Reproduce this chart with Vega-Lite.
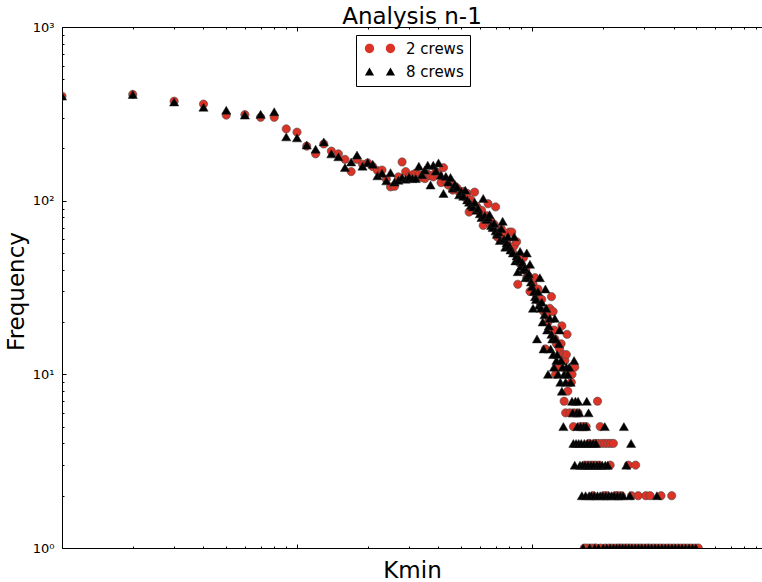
{
"$schema": "https://vega.github.io/schema/vega-lite/v6.json",
"width": 700, "height": 521,
"autosize": {"type": "none"},
"padding": {"left": 62, "top": 27, "right": 0, "bottom": 34},
"background": "white",
"title": {"text": "Analysis n-1", "fontSize": 23, "font": "DejaVu Sans", "fontWeight": "normal", "color": "black", "anchor": "middle", "frame": "group", "baseline": "alphabetic", "offset": -26},
"datasets": {
"a": [
{"k":1,"f":400},{"k":2,"f":409},{"k":3,"f":374},{"k":4,"f":360},{"k":5,"f":311},{"k":6,"f":313},{"k":7,"f":302},{"k":8,"f":302},{"k":9,"f":259},{"k":10,"f":248},
{"k":11,"f":206},{"k":12,"f":186},{"k":13,"f":212},{"k":14,"f":193},{"k":15,"f":186},{"k":16,"f":173},{"k":17,"f":147},{"k":18,"f":173},{"k":19,"f":162},{"k":20,"f":165},
{"k":21,"f":157},{"k":22,"f":149},{"k":23,"f":150},{"k":24,"f":133},{"k":25,"f":120},{"k":26,"f":121},{"k":27,"f":137},{"k":28,"f":167},{"k":29,"f":147},{"k":30,"f":138},
{"k":31,"f":141},{"k":32,"f":144},{"k":33,"f":141},{"k":34,"f":136},{"k":35,"f":134},{"k":36,"f":142},{"k":37,"f":139},{"k":38,"f":137},{"k":39,"f":147},{"k":40,"f":142},
{"k":41,"f":127},{"k":42,"f":155},{"k":43,"f":130},{"k":44,"f":123},{"k":45,"f":128},{"k":46,"f":115},{"k":47,"f":121},{"k":48,"f":118},{"k":49,"f":112},{"k":50,"f":108},
{"k":51,"f":113},{"k":52,"f":104},{"k":53,"f":110},{"k":54,"f":86},{"k":55,"f":101},{"k":56,"f":96},{"k":57,"f":112},{"k":58,"f":93},{"k":59,"f":90},{"k":60,"f":86},
{"k":61,"f":88},{"k":62,"f":72},{"k":63,"f":80},{"k":64,"f":82},{"k":65,"f":96},{"k":66,"f":74},{"k":67,"f":76},{"k":68,"f":70},{"k":69,"f":73},{"k":70,"f":92},
{"k":71,"f":62},{"k":72,"f":65},{"k":73,"f":60},{"k":74,"f":69},{"k":75,"f":63},{"k":76,"f":64},{"k":77,"f":58},{"k":78,"f":58},{"k":79,"f":55},{"k":80,"f":66},
{"k":81,"f":53},{"k":82,"f":66},{"k":83,"f":50},{"k":84,"f":55},{"k":86,"f":58},{"k":87,"f":33},{"k":88,"f":44},{"k":89,"f":47},{"k":90,"f":43},{"k":92,"f":47},
{"k":93,"f":40},{"k":94,"f":40},{"k":95,"f":36},{"k":96,"f":37},{"k":98,"f":30},{"k":101,"f":33},{"k":103,"f":36},{"k":104,"f":29},{"k":106,"f":31},{"k":108,"f":26},
{"k":110,"f":27},{"k":112,"f":23},{"k":114,"f":14},{"k":116,"f":22},{"k":117,"f":20},{"k":119,"f":24},{"k":121,"f":28},{"k":123,"f":23},{"k":124,"f":18},{"k":125,"f":16},
{"k":126,"f":10},{"k":127,"f":15},{"k":129,"f":11},{"k":131,"f":14},{"k":133,"f":15},{"k":134,"f":19},{"k":136,"f":13},{"k":137,"f":7},{"k":138,"f":12},{"k":139,"f":6},
{"k":140,"f":13},{"k":141,"f":17},{"k":142,"f":8},{"k":143,"f":10},{"k":145,"f":6},{"k":147,"f":9},{"k":148,"f":10},{"k":150,"f":5},{"k":151,"f":6},{"k":152,"f":11},
{"k":157,"f":6},{"k":160,"f":5},{"k":165,"f":5},{"k":170,"f":5},{"k":195,"f":5},{"k":190,"f":7},
{"k":175,"f":4},{"k":185,"f":4},{"k":191,"f":4},{"k":198,"f":4},{"k":204,"f":4},{"k":210,"f":4},{"k":216,"f":4},{"k":222,"f":4},
{"k":168,"f":3},{"k":174,"f":3},{"k":180,"f":3},{"k":186,"f":3},{"k":193,"f":3},{"k":215,"f":3},{"k":257,"f":3},{"k":276,"f":3},
{"k":182,"f":2},{"k":202,"f":2},{"k":209,"f":2},{"k":226,"f":2},{"k":232,"f":2},{"k":240,"f":2},{"k":265,"f":2},{"k":283,"f":2},{"k":305,"f":2},{"k":318,"f":2},{"k":354,"f":2},{"k":393,"f":2},
{"k":167,"f":1},{"k":172,"f":1},{"k":178,"f":1},{"k":184,"f":1},{"k":188,"f":1},{"k":196,"f":1},{"k":205,"f":1},{"k":213,"f":1},{"k":220,"f":1},{"k":228,"f":1},
{"k":235,"f":1},{"k":241,"f":1},{"k":249,"f":1},{"k":256,"f":1},{"k":263,"f":1},{"k":271,"f":1},{"k":280,"f":1},{"k":289,"f":1},{"k":298,"f":1},{"k":308,"f":1},
{"k":316,"f":1},{"k":327,"f":1},{"k":338,"f":1},{"k":350,"f":1},{"k":362,"f":1},{"k":375,"f":1},{"k":388,"f":1},{"k":402,"f":1},{"k":416,"f":1},{"k":430,"f":1},
{"k":445,"f":1},{"k":460,"f":1},{"k":476,"f":1},{"k":493,"f":1},{"k":510,"f":1}
],
"b": [
{"k":1,"f":400},{"k":2,"f":409},{"k":3,"f":370},{"k":4,"f":345},{"k":5,"f":332},{"k":6,"f":311},{"k":7,"f":314},{"k":8,"f":325},{"k":9,"f":233},{"k":10,"f":230},
{"k":11,"f":209},{"k":12,"f":198},{"k":13,"f":218},{"k":14,"f":186},{"k":15,"f":179},{"k":16,"f":155},{"k":17,"f":167},{"k":18,"f":183},{"k":19,"f":158},{"k":20,"f":166},
{"k":21,"f":162},{"k":22,"f":139},{"k":23,"f":144},{"k":24,"f":130},{"k":25,"f":145},{"k":26,"f":128},{"k":27,"f":131},{"k":28,"f":136},{"k":29,"f":133},{"k":30,"f":137},
{"k":31,"f":134},{"k":32,"f":134},{"k":33,"f":158},{"k":34,"f":141},{"k":35,"f":150},{"k":36,"f":160},{"k":37,"f":123},{"k":38,"f":160},{"k":39,"f":148},{"k":40,"f":165},
{"k":41,"f":140},{"k":42,"f":110},{"k":43,"f":138},{"k":44,"f":128},{"k":45,"f":136},{"k":46,"f":118},{"k":47,"f":124},{"k":48,"f":120},{"k":49,"f":108},{"k":50,"f":113},
{"k":51,"f":106},{"k":52,"f":115},{"k":53,"f":101},{"k":54,"f":98},{"k":55,"f":94},{"k":56,"f":92},{"k":57,"f":98},{"k":58,"f":88},{"k":59,"f":90},{"k":60,"f":84},
{"k":61,"f":80},{"k":62,"f":103},{"k":63,"f":82},{"k":64,"f":78},{"k":65,"f":80},{"k":66,"f":83},{"k":67,"f":72},{"k":68,"f":70},{"k":69,"f":74},{"k":70,"f":67},
{"k":71,"f":64},{"k":72,"f":66},{"k":73,"f":59},{"k":74,"f":69},{"k":75,"f":76},{"k":76,"f":60},{"k":77,"f":54},{"k":78,"f":57},{"k":79,"f":62},{"k":80,"f":55},
{"k":81,"f":52},{"k":83,"f":50},{"k":84,"f":62},{"k":85,"f":45},{"k":86,"f":48},{"k":87,"f":39},{"k":88,"f":46},{"k":89,"f":51},{"k":90,"f":42},{"k":91,"f":44},
{"k":92,"f":40},{"k":93,"f":41},{"k":94,"f":36},{"k":95,"f":50},{"k":96,"f":37},{"k":97,"f":38},{"k":98,"f":43},{"k":99,"f":34},{"k":100,"f":32},{"k":101,"f":24},
{"k":102,"f":30},{"k":103,"f":28},{"k":104,"f":27},{"k":105,"f":16},{"k":106,"f":30},{"k":107,"f":25},{"k":108,"f":36},{"k":109,"f":24},{"k":110,"f":26},{"k":111,"f":20},
{"k":112,"f":14},{"k":113,"f":22},{"k":114,"f":31},{"k":115,"f":24},{"k":116,"f":18},{"k":117,"f":10},{"k":118,"f":19},{"k":119,"f":21},{"k":120,"f":14},{"k":121,"f":17},
{"k":122,"f":16},{"k":123,"f":13},{"k":124,"f":11},{"k":125,"f":21},{"k":126,"f":16},{"k":127,"f":12},{"k":128,"f":13},{"k":129,"f":10},{"k":130,"f":15},{"k":131,"f":18},
{"k":132,"f":9},{"k":133,"f":12},{"k":134,"f":8},{"k":135,"f":11},{"k":137,"f":10},{"k":139,"f":9},{"k":140,"f":11},{"k":142,"f":10},{"k":144,"f":11},{"k":146,"f":9},
{"k":151,"f":12},{"k":148,"f":7},{"k":153,"f":7},{"k":157,"f":7},{"k":171,"f":7},
{"k":149,"f":6},{"k":155,"f":6},{"k":159,"f":6},{"k":174,"f":6},
{"k":136,"f":5},{"k":156,"f":5},{"k":161,"f":5},{"k":166,"f":5},{"k":170,"f":5},{"k":204,"f":5},{"k":246,"f":5},
{"k":150,"f":4},{"k":154,"f":4},{"k":158,"f":4},{"k":162,"f":4},{"k":167,"f":4},{"k":172,"f":4},{"k":177,"f":4},{"k":182,"f":4},{"k":187,"f":4},{"k":264,"f":4},
{"k":152,"f":3},{"k":160,"f":3},{"k":164,"f":3},{"k":168,"f":3},{"k":173,"f":3},{"k":178,"f":3},{"k":183,"f":3},{"k":189,"f":3},{"k":194,"f":3},{"k":199,"f":3},{"k":205,"f":3},{"k":210,"f":3},{"k":252,"f":3},
{"k":163,"f":2},{"k":169,"f":2},{"k":175,"f":2},{"k":179,"f":2},{"k":184,"f":2},{"k":190,"f":2},{"k":195,"f":2},{"k":200,"f":2},{"k":206,"f":2},{"k":212,"f":2},{"k":218,"f":2},{"k":224,"f":2},{"k":231,"f":2},{"k":238,"f":2},{"k":244,"f":2},{"k":261,"f":2},{"k":340,"f":2},
{"k":165,"f":1},{"k":176,"f":1},{"k":185,"f":1},{"k":192,"f":1},{"k":201,"f":1},{"k":208,"f":1},{"k":215,"f":1},{"k":222,"f":1},{"k":229,"f":1},{"k":236,"f":1},
{"k":243,"f":1},{"k":250,"f":1},{"k":258,"f":1},{"k":266,"f":1},{"k":275,"f":1},{"k":284,"f":1},{"k":293,"f":1},{"k":303,"f":1},{"k":313,"f":1},{"k":323,"f":1},
{"k":334,"f":1},{"k":345,"f":1},{"k":357,"f":1},{"k":369,"f":1},{"k":381,"f":1},{"k":394,"f":1},{"k":407,"f":1},{"k":421,"f":1},{"k":435,"f":1},{"k":450,"f":1},
{"k":466,"f":1},{"k":482,"f":1},{"k":498,"f":1}
]
},
"layer": [
  {"data": {"name": "a"},
   "mark": {"type": "point", "shape": "circle", "filled": true, "color": "#dc3326", "size": 68, "opacity": 1, "stroke": "#4a4a4a", "strokeWidth": 0.6, "clip": true},
   "encoding": {
     "x": {"field": "k", "type": "quantitative", "scale": {"type": "log", "domain": [1, 952], "nice": false},
       "axis": {"orient": "bottom", "values": [1,2,3,4,5,6,7,8,9,10,20,30,40,50,60,70,80,90,100,200,300,400,500,600,700,800,900],
         "labels": false, "tickSize": {"condition": {"test": "datum.value == 1 || datum.value == 10 || datum.value == 100", "value": -4}, "value": -2},
         "title": "Kmin", "titleFontSize": 23, "titleX": 350, "titleY": 29, "titleBaseline": "alphabetic", "titleAlign": "center"}},
     "y": {"field": "f", "type": "quantitative",
       "scale": {"type": "log", "domain": [1, 1000], "nice": false},
       "axis": {"orient": "left", "values": [1,2,3,4,5,6,7,8,9,10,20,30,40,50,60,70,80,90,100,200,300,400,500,600,700,800,900,1000],
         "labelExpr": "datum.value == 1 ? '10⁰' : datum.value == 10 ? '10¹' : datum.value == 100 ? '10²' : datum.value == 1000 ? '10³' : ''",
         "labelFontSize": 13, "labelPadding": 12, "labelOverlap": false,
         "tickSize": {"condition": {"test": "datum.value == 1 || datum.value == 10 || datum.value == 100 || datum.value == 1000", "value": -4}, "value": -2},
         "title": "Frequency", "titleFontSize": 23, "titleX": -46, "titleY": 264, "titleAngle": 270, "titleBaseline": "middle", "titleAlign": "center"}}
   }},
  {"data": {"name": "b"},
   "mark": {"type": "point", "shape": "triangle-up", "filled": true, "color": "#000000", "size": 85, "opacity": 1, "stroke": "#222", "strokeWidth": 0.5, "clip": true},
   "encoding": {
     "x": {"field": "k", "type": "quantitative", "scale": {"type": "log", "domain": [1, 952], "nice": false},
       "axis": {"orient": "top", "values": [1,2,3,4,5,6,7,8,9,10,20,30,40,50,60,70,80,90,100,200,300,400,500,600,700,800,900],
         "labels": false, "tickSize": {"condition": {"test": "datum.value == 1 || datum.value == 10 || datum.value == 100", "value": -4}, "value": -2}, "title": null}},
     "y": {"field": "f", "type": "quantitative"}
   }},
  {"data": {"name": "a"},
   "transform": [{"filter": "false"}],
   "mark": {"type": "point", "filled": true, "opacity": 1},
   "encoding": {
     "color": {"datum": "2 crews", "type": "nominal",
       "scale": {"domain": ["2 crews", "8 crews"], "range": ["#dc3326", "#000000"]},
       "legend": {"orient": "none", "legendX": 294, "legendY": 8, "title": null, "fillColor": "white", "strokeColor": "black", "cornerRadius": 0, "padding": 6, "labelFontSize": 15, "labelFont": "DejaVu Sans", "labelColor": "black", "symbolSize": 86, "labelOffset": 29, "rowPadding": 7, "symbolStrokeColor": "#333", "symbolStrokeWidth": 0.6, "symbolOpacity": 1}},
     "shape": {"datum": "2 crews", "type": "nominal",
       "scale": {"domain": ["2 crews", "8 crews"], "range": ["M1,0A1,1,0,1,1,-1,0A1,1,0,1,1,1,0Z M5.52,0A1,1,0,1,1,3.52,0A1,1,0,1,1,5.52,0Z", "M0,-0.86L-0.99,0.86L0.99,0.86Z M4.52,-0.86L3.53,0.86L5.51,0.86Z"]},
       "legend": {"orient": "none", "legendX": 294, "legendY": 8, "title": null, "fillColor": "white", "strokeColor": "black", "cornerRadius": 0, "padding": 6, "labelFontSize": 15, "labelFont": "DejaVu Sans", "labelColor": "black", "symbolSize": 86, "labelOffset": 29, "rowPadding": 7, "symbolStrokeColor": "#333", "symbolStrokeWidth": 0.6, "symbolOpacity": 1}}
   }}
],
"resolve": {"axis": {"x": "independent"}},
"config": {
  "view": {"stroke": null},
  "font": "DejaVu Sans",
  "axis": {"domainColor": "black", "domainWidth": 1, "tickColor": "black", "tickWidth": 1, "labelColor": "black", "labelFont": "DejaVu Sans", "titleFont": "DejaVu Sans", "titleFontWeight": "normal", "titleColor": "black", "grid": false}
}
}
